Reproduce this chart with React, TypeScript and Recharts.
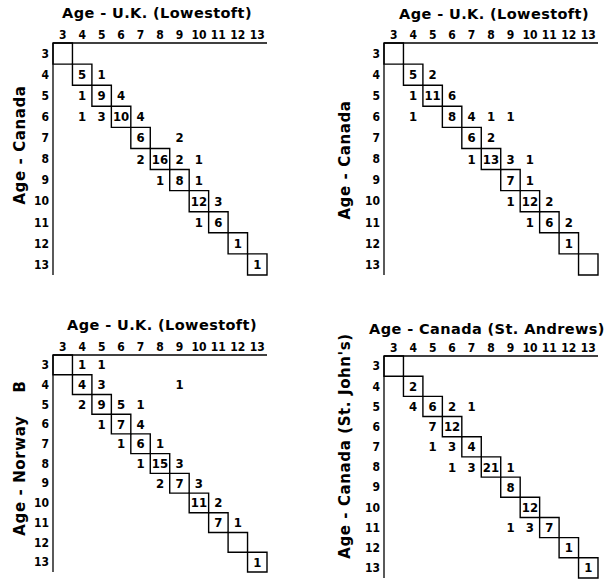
import React from 'react';
import { ScatterChart, Scatter, XAxis, YAxis, ReferenceArea } from 'recharts';

const ages = [3, 4, 5, 6, 7, 8, 9, 10, 11, 12, 13];

// [row age, column age, number of fish]
const canadaVsUkA = [
  [4, 4, 5], [4, 5, 1],
  [5, 4, 1], [5, 5, 9], [5, 6, 4],
  [6, 4, 1], [6, 5, 3], [6, 6, 10], [6, 7, 4],
  [7, 7, 6], [7, 9, 2],
  [8, 7, 2], [8, 8, 16], [8, 9, 2], [8, 10, 1],
  [9, 8, 1], [9, 9, 8], [9, 10, 1],
  [10, 10, 12], [10, 11, 3],
  [11, 10, 1], [11, 11, 6],
  [12, 12, 1],
  [13, 13, 1],
];

const canadaVsUkB = [
  [4, 4, 5], [4, 5, 2],
  [5, 4, 1], [5, 5, 11], [5, 6, 6],
  [6, 4, 1], [6, 6, 8], [6, 7, 4], [6, 8, 1], [6, 9, 1],
  [7, 7, 6], [7, 8, 2],
  [8, 7, 1], [8, 8, 13], [8, 9, 3], [8, 10, 1],
  [9, 9, 7], [9, 10, 1],
  [10, 9, 1], [10, 10, 12], [10, 11, 2],
  [11, 10, 1], [11, 11, 6], [11, 12, 2],
  [12, 12, 1],
];

const norwayVsUk = [
  [3, 4, 1], [3, 5, 1],
  [4, 4, 4], [4, 5, 3], [4, 9, 1],
  [5, 4, 2], [5, 5, 9], [5, 6, 5], [5, 7, 1],
  [6, 5, 1], [6, 6, 7], [6, 7, 4],
  [7, 6, 1], [7, 7, 6], [7, 8, 1],
  [8, 7, 1], [8, 8, 15], [8, 9, 3],
  [9, 8, 2], [9, 9, 7], [9, 10, 3],
  [10, 10, 11], [10, 11, 2],
  [11, 11, 7], [11, 12, 1],
  [13, 13, 1],
];

const stJohnsVsStAndrews = [
  [4, 4, 2],
  [5, 4, 4], [5, 5, 6], [5, 6, 2], [5, 7, 1],
  [6, 5, 7], [6, 6, 12],
  [7, 5, 1], [7, 6, 3], [7, 7, 4],
  [8, 6, 1], [8, 7, 3], [8, 8, 21], [8, 9, 1],
  [9, 9, 8],
  [10, 10, 12],
  [11, 9, 1], [11, 10, 3], [11, 11, 7],
  [12, 12, 1],
  [13, 13, 1],
];

const FONT = '"DejaVu Sans", sans-serif';
const NARROW = '"DejaVu Sans Condensed", "DejaVu Sans", sans-serif';

const CountText = (props: any) => (
  <text
    x={props.cx}
    y={props.cy}
    textAnchor="middle"
    dominantBaseline="central"
    fontFamily={NARROW}
    fontWeight="bold"
    fontSize={13}
    fill="#000"
  >
    {props.payload.n}
  </text>
);

interface PanelProps {
  left: number;
  top: number;
  margin: { top: number; right: number; bottom: number; left: number };
  title: string;
  titleX: number;
  titleY: number;
  yTitle: string;
  yTitleX: number;
  yTitleY: number;
  counts: number[][];
}

const AgePanel = (p: PanelProps) => {
  const data = p.counts.map(([row, col, n]) => ({ x: col, y: row, n }));
  const tick = { fill: '#000', fontSize: 12, fontWeight: 'bold', fontFamily: NARROW };
  return (
    <>
      <div style={{ position: 'absolute', left: p.left, top: p.top }}>
        <ScatterChart width={304} height={293} margin={p.margin}>
          <XAxis
            type="number"
            dataKey="x"
            orientation="top"
            domain={[2.5, 13.5]}
            ticks={ages}
            interval={0}
            height={24}
            tickLine={false}
            tickSize={0}
            tickMargin={4}
            axisLine={{ stroke: '#000', strokeWidth: 1.3 }}
            tick={tick}
          />
          <YAxis
            type="number"
            dataKey="y"
            reversed
            domain={[2.5, 13.5]}
            ticks={ages}
            interval={0}
            width={30}
            tickLine={false}
            tickSize={0}
            tickMargin={4}
            axisLine={{ stroke: '#000', strokeWidth: 1.3 }}
            tick={tick}
          />
          {ages.map((a) => (
            <ReferenceArea
              key={a}
              x1={a - 0.5}
              x2={a + 0.5}
              y1={a - 0.5}
              y2={a + 0.5}
              fill="none"
              fillOpacity={0}
              stroke="#000"
              strokeWidth={1.4}
              ifOverflow="visible"
            />
          ))}
          <Scatter data={data} isAnimationActive={false} shape={CountText} />
        </ScatterChart>
      </div>
      <div
        style={{
          position: 'absolute',
          left: p.titleX,
          top: p.titleY,
          transform: 'translate(-50%, -50%)',
          whiteSpace: 'nowrap',
          fontFamily: FONT,
          fontWeight: 'bold',
          fontSize: 14.5,
          letterSpacing: 0.4,
          color: '#000',
        }}
      >
        {p.title}
      </div>
      <div
        style={{
          position: 'absolute',
          left: p.yTitleX,
          top: p.yTitleY,
          transform: 'translate(-50%, -50%) rotate(-90deg)',
          whiteSpace: 'pre',
          fontFamily: FONT,
          fontWeight: 'bold',
          fontSize: 15,
          letterSpacing: 0.6,
          color: '#000',
        }}
      >
        {p.yTitle}
      </div>
    </>
  );
};

export default function App() {
  return (
    <div
      style={{
        position: 'absolute',
        left: 0,
        top: 0,
        width: 608,
        height: 586,
        background: '#fff',
        overflow: 'hidden',
      }}
    >
      <AgePanel
        left={0}
        top={0}
        margin={{ top: 19, right: 37, bottom: 18, left: 23 }}
        title="Age - U.K. (Lowestoft)"
        titleX={157}
        titleY={13}
        yTitle="Age - Canada"
        yTitleX={20}
        yTitleY={145}
        counts={canadaVsUkA}
      />
      <AgePanel
        left={304}
        top={0}
        margin={{ top: 19, right: 10, bottom: 18, left: 50 }}
        title="Age - U.K. (Lowestoft)"
        titleX={494}
        titleY={14}
        yTitle="Age - Canada"
        yTitleX={345}
        yTitleY={160}
        counts={canadaVsUkB}
      />
      <AgePanel
        left={0}
        top={293}
        margin={{ top: 38, right: 37, bottom: 14, left: 23 }}
        title="Age - U.K. (Lowestoft)"
        titleX={162}
        titleY={325}
        yTitle="Age - Norway    B"
        yTitleX={20}
        yTitleY={458}
        counts={norwayVsUk}
      />
      <AgePanel
        left={304}
        top={293}
        margin={{ top: 39, right: 10, bottom: 8, left: 50 }}
        title="Age - Canada (St. Andrews)"
        titleX={487}
        titleY={329}
        yTitle="Age - Canada (St. John's)"
        yTitleX={345}
        yTitleY={446}
        counts={stJohnsVsStAndrews}
      />
    </div>
  );
}
